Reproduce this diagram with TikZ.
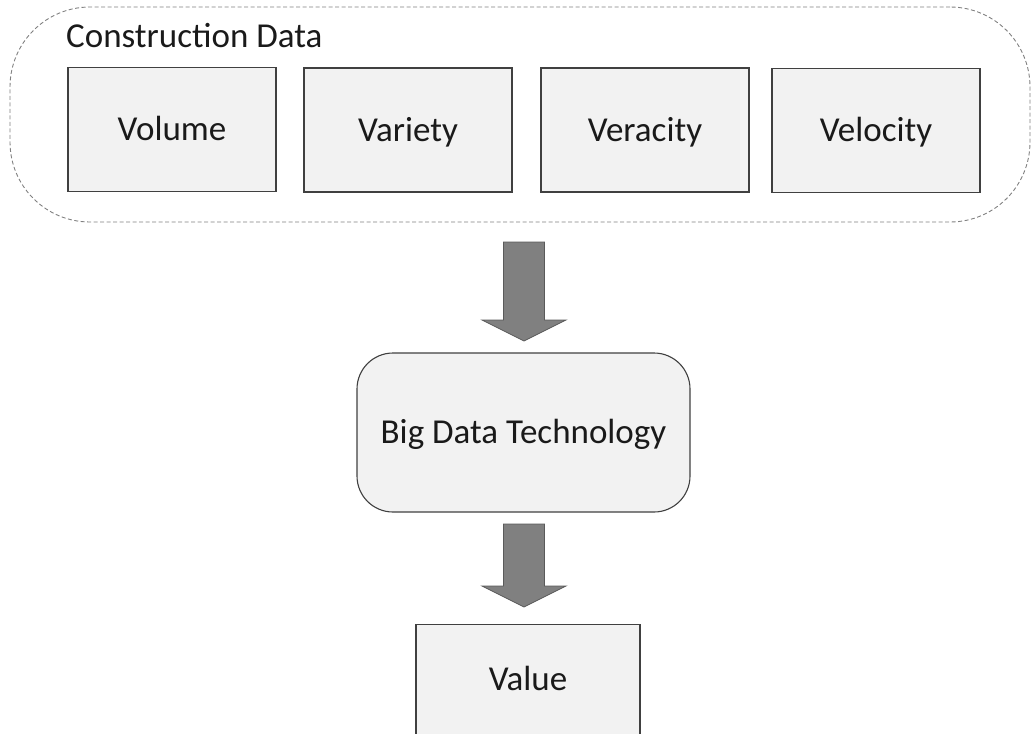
\documentclass[tikz,border=0pt]{standalone}
\usepackage{fontspec}
\setmainfont{Carlito}
\usetikzlibrary{calc}
\definecolor{boxfill}{HTML}{F2F2F2}
\definecolor{boxline}{HTML}{404040}
\definecolor{dashline}{HTML}{808080}
\definecolor{arrowfill}{HTML}{808080}
\definecolor{arrowline}{HTML}{5A5A5A}
\definecolor{txt}{HTML}{1A1A1A}
\tikzset{
  lbl/.style={text=txt, font=\fontsize{35}{42}\selectfont, text height=22pt, text depth=0pt},
  vbox/.style={lbl, draw=boxline, fill=boxfill, line width=1.1pt, minimum width=208pt, minimum height=124pt, inner sep=0pt},
  techbox/.style={lbl, draw=boxline, fill=boxfill, line width=1.1pt, rounded corners=36pt, minimum width=333pt, minimum height=159pt, inner sep=0pt},
  container/.style={draw=dashline, dash pattern=on 4pt off 2.5pt, line width=0.9pt, rounded corners=80pt, minimum width=1020pt, minimum height=215pt, inner sep=0pt},
  bigarrow/.style={fill=arrowfill, draw=arrowline, line width=0.8pt, line join=miter}
}
\begin{document}
\begin{tikzpicture}[x=1pt,y=-1pt]
\useasboundingbox (0,0) rectangle (1032,733);
\clip (0,0) rectangle (1032,733);
\node[container] (cd) at (520,114.5) {};
\node[lbl, anchor=base west, inner sep=0pt] (cdlabel) at (66,48) {Construction Data};
\node[vbox] (vol) at (172,129.5) {Volume};
\node[vbox] (var) at (408,130) {Variety};
\node[vbox] (ver) at (645,130) {Veracity};
\node[vbox] (vel) at (876,130.5) {Velocity};
\node[techbox] (bdt) at (523.5,432.5) {Big Data Technology};
\node[vbox, minimum width=224pt, minimum height=180pt, anchor=north] (val) at (528,624) {};
\node[lbl, inner sep=0pt] (valtxt) at (528,679) {Value};
% arrows
\coordinate (a1s) at (524,242);
\coordinate (a1e) at (524,341);
\coordinate (a2s) at (524,524);
\coordinate (a2e) at (524,607);
\draw[bigarrow] ($(a1s)+(-20.5,0)$) -- ($(a1s)+(20.5,0)$) -- ($(a1e)+(20.5,-21)$) -- ($(a1e)+(42,-21)$) -- (a1e) -- ($(a1e)+(-42,-21)$) -- ($(a1e)+(-20.5,-21)$) -- cycle;
\draw[bigarrow] ($(a2s)+(-20.5,0)$) -- ($(a2s)+(20.5,0)$) -- ($(a2e)+(20.5,-21)$) -- ($(a2e)+(42,-21)$) -- (a2e) -- ($(a2e)+(-42,-21)$) -- ($(a2e)+(-20.5,-21)$) -- cycle;
\end{tikzpicture}
\end{document}
